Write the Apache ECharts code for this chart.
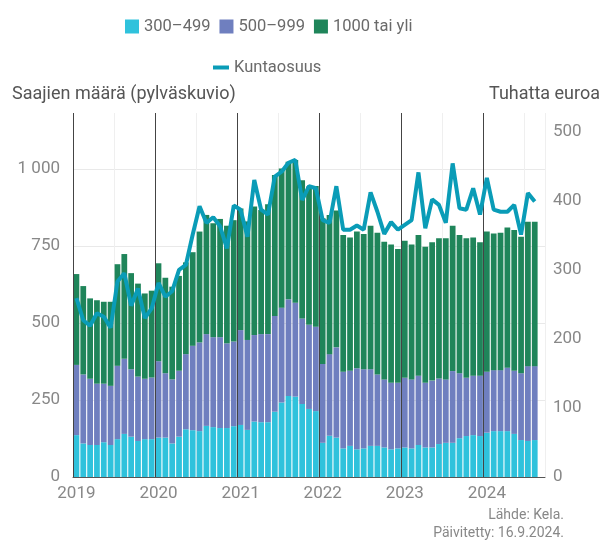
<!DOCTYPE html>
<html>
<head>
<meta charset="utf-8">
<script src="https://cdn.jsdelivr.net/npm/echarts@6/dist/echarts.min.js"></script>
<style>
  html, body { margin: 0; padding: 0; background: #fff; }
  #chart { width: 610px; height: 540px; }
</style>
</head>
<body>
<div id="chart"></div>
<script>
// kuukaudet 2019-01 ... 2024-09 (viimeinen tyhjä)
const years = ['2019', '2020', '2021', '2022', '2023', '2024']
const months = []
years.forEach(function (y) {
  for (let m = 1; m <= 12; m++) months.push(y + '-' + (m < 10 ? '0' + m : m))
})
const categories = months.slice(0, 69)

// saajien määrä (pylväät), pinottuna
const s300 = [136, 109, 104, 104, 113, 104, 123, 140, 131, 117, 123, 123,
  128, 128, 109, 131, 155, 152, 149, 166, 162, 159, 159, 165,
  169, 153, 180, 178, 178, 212, 242, 263, 261, 237, 221, 214,
  111, 134, 128, 93, 101, 90, 93, 101, 101, 96, 90, 93,
  96, 93, 104, 96, 96, 107, 111, 111, 126, 133, 136, 133,
  144, 149, 149, 149, 140, 120, 117, 120]
const s500 = [228, 224, 215, 199, 190, 192, 238, 244, 219, 209, 196, 200,
  248, 209, 208, 214, 244, 274, 288, 298, 292, 295, 275, 275,
  308, 292, 281, 286, 286, 311, 308, 314, 305, 278, 273, 274,
  256, 265, 293, 249, 244, 263, 257, 249, 232, 221, 216, 213,
  226, 224, 225, 210, 217, 213, 206, 233, 211, 189, 193, 196,
  198, 198, 198, 206, 205, 217, 243, 240]
const s1000 = [295, 287, 261, 271, 266, 273, 330, 340, 312, 302, 277, 282,
  318, 310, 301, 308, 298, 304, 360, 387, 370, 384, 382, 394,
  395, 385, 417, 403, 422, 458, 452, 447, 463, 449, 449, 457,
  473, 452, 444, 444, 433, 444, 439, 466, 460, 447, 449, 434,
  445, 438, 457, 442, 449, 455, 458, 472, 449, 453, 449, 433,
  455, 444, 446, 455, 457, 443, 469, 469]
// kuntaosuus, tuhatta euroa
const kunta = [259, 227, 219, 237, 232, 216, 283, 295, 248, 273, 230, 244,
  281, 261, 269, 300, 307, 351, 392, 368, 376, 363, 331, 393,
  387, 348, 430, 387, 380, 435, 442, 455, 459, 401, 421, 418,
  372, 368, 421, 358, 358, 364, 358, 412, 384, 352, 369, 358,
  365, 372, 441, 360, 402, 394, 368, 454, 389, 387, 418, 380,
  433, 387, 384, 384, 394, 351, 411, 399]

const myChart = echarts.init(document.getElementById('chart'))
const font = 'Roboto, "Noto Sans", sans-serif'

const option = {
  animation: false,
  textStyle: { fontFamily: font },
  legend: [
    {
      top: 13,
      left: 120,
      icon: 'rect',
      itemWidth: 14,
      itemHeight: 14,
      itemGap: 9,
      textStyle: { color: '#6a6a6a', fontSize: 16.5, fontFamily: font },
      data: ['300–499', '500–999', '1000 tai yli']
    },
    {
      top: 54,
      left: 208,
      icon: 'rect',
      itemWidth: 16,
      itemHeight: 4,
      textStyle: { color: '#6a6a6a', fontSize: 16.5, fontFamily: font },
      data: ['Kuntaosuus']
    }
  ],
  grid: { left: 73, right: 65, top: 113, bottom: 63 },
  xAxis: [
    {
      type: 'category',
      data: categories,
      boundaryGap: true,
      axisLine: { lineStyle: { color: '#555' } },
      axisTick: { show: false },
      axisLabel: {
        interval: 11,
        margin: 8,
        color: '#888',
        fontSize: 17,
        formatter: function (v) { return v.slice(0, 4) }
      },
      splitLine: {
        show: true,
        interval: function (i) { return i % 12 === 6 },
        lineStyle: { color: '#efefef' }
      }
    },
    {
      type: 'value',
      min: 0,
      max: 69,
      interval: 12,
      position: 'bottom',
      z: 5,
      axisLine: { show: false },
      axisTick: { show: false },
      axisLabel: { show: false },
      splitLine: { show: true, showMaxLine: false, lineStyle: { color: '#444', width: 1 } }
    }
  ],
  yAxis: [
    {
      type: 'value',
      min: 0,
      max: 1182,
      interval: 250,
      name: 'Saajien määrä (pylväskuvio)',
      nameLocation: 'end',
      nameGap: 10,
      nameTextStyle: { color: '#555', fontSize: 18, align: 'left', padding: [0, 0, 0, -61] },
      axisLine: { show: false },
      axisTick: { show: false },
      axisLabel: {
        color: '#888',
        fontSize: 17,
        margin: 13,
        showMaxLabel: false,
        formatter: function (v) { return v >= 1000 ? '1 000' : String(v) }
      },
      splitLine: { showMaxLine: false, lineStyle: { color: '#e9e9e9' } }
    },
    {
      type: 'value',
      min: 0,
      max: 527,
      interval: 100,
      name: 'Tuhatta euroa',
      nameLocation: 'end',
      nameGap: 10,
      nameTextStyle: { color: '#555', fontSize: 18, align: 'right', padding: [0, -55, 0, 0] },
      axisLine: { show: false },
      axisTick: { show: false },
      axisLabel: {
        color: '#888',
        fontSize: 17,
        margin: 8,
        showMaxLabel: false
      },
      splitLine: { show: false }
    }
  ],
  series: [
    {
      name: '300–499',
      type: 'bar',
      stack: 'saajat',
      barCategoryGap: '16%',
      itemStyle: { color: '#2fc2dc' },
      data: s300
    },
    {
      name: '500–999',
      type: 'bar',
      stack: 'saajat',
      itemStyle: { color: '#6f7fbf' },
      data: s500
    },
    {
      name: '1000 tai yli',
      type: 'bar',
      stack: 'saajat',
      itemStyle: { color: '#1f855a' },
      data: s1000
    },
    {
      name: 'Kuntaosuus',
      type: 'line',
      yAxisIndex: 1,
      symbol: 'none',
      z: 6,
      itemStyle: { color: '#0a9cb7' },
      lineStyle: { color: '#0a9cb7', width: 4 },
      data: kunta
    }
  ],
  graphic: [
    {
      type: 'text',
      right: 46,
      top: 508,
      style: { text: 'Lähde: Kela.', fill: '#888', font: '14px ' + font, textAlign: 'right' }
    },
    {
      type: 'text',
      right: 46,
      top: 526,
      style: { text: 'Päivitetty: 16.9.2024.', fill: '#888', font: '14px ' + font, textAlign: 'right' }
    }
  ]
}

myChart.setOption(option)
</script>
</body>
</html>
